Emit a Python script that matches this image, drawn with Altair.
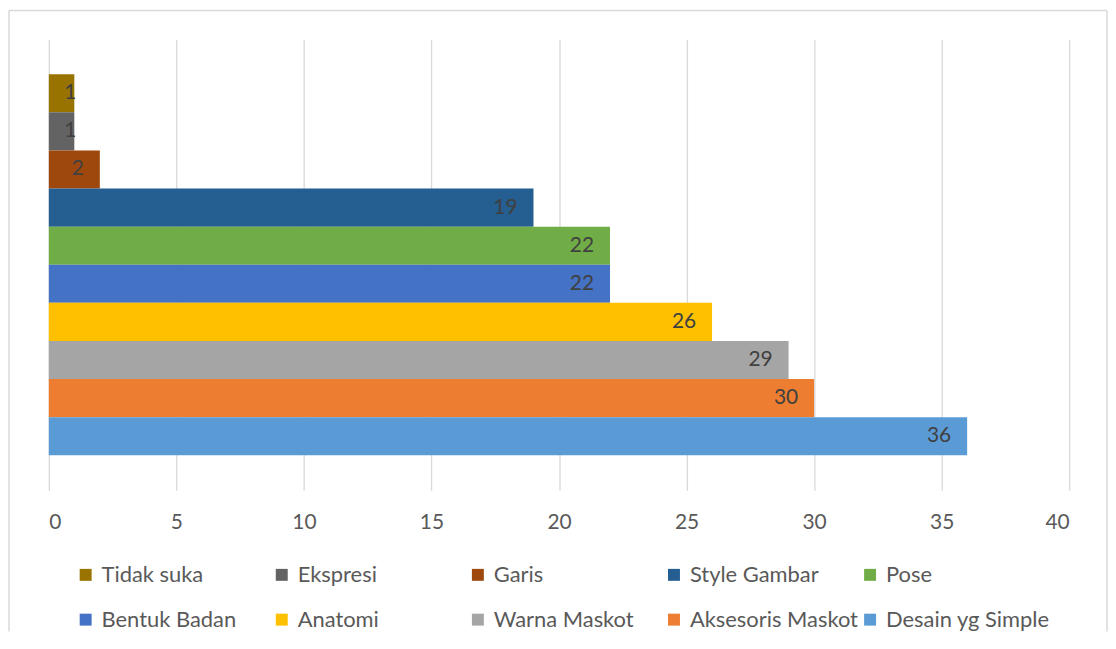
import altair as alt
import pandas as pd

categories = ["Tidak suka", "Ekspresi", "Garis", "Style Gambar", "Pose",
              "Bentuk Badan", "Anatomi", "Warna Maskot", "Aksesoris Maskot", "Desain yg Simple"]
values = [1, 1, 2, 19, 22, 22, 26, 29, 30, 36]
colors = ["#997300", "#636363", "#9e480e", "#255e91", "#70ad47",
          "#4472c4", "#ffc000", "#a5a5a5", "#ed7d31", "#5b9bd5"]
x_ticks = [0, 5, 10, 15, 20, 25, 30, 35, 40]

df = pd.DataFrame({"Kategori": categories, "Jumlah": values})

FONT = "Lato"
W, H = 1025, 453

y_enc = alt.Y("Kategori:N", sort=categories,
              scale=alt.Scale(domain=categories, paddingInner=0, paddingOuter=0.915),
              axis=None)
x_scale = alt.Scale(domain=[0, 40], nice=False)

bars = alt.Chart(df).mark_bar().encode(
    x=alt.X("Jumlah:Q", scale=x_scale,
            axis=alt.Axis(values=x_ticks, grid=True, gridColor="#d9d9d9", gridWidth=1.3,
                          domain=False, ticks=False, labelFontSize=21, labelFont=FONT,
                          labelColor="#595959", labelPadding=21, title=None)),
    y=y_enc,
    color=alt.Color("Kategori:N", sort=categories,
                    scale=alt.Scale(domain=categories, range=colors),
                    legend=alt.Legend(orient="none", legendX=26, legendY=527, columns=5,
                                      title=None, symbolType="square", symbolSize=144,
                                      symbolStrokeWidth=0, labelFontSize=22, labelFont=FONT,
                                      labelColor="#595959", labelOffset=5, labelLimit=400,
                                      columnPadding=1, rowPadding=23, gridAlign="all",
                                      padding=0, direction="horizontal")),
)

labels = alt.Chart(df).transform_calculate(
    lx="datum.Jumlah >= 2 ? datum.Jumlah : datum.Jumlah + 0.7"
).mark_text(align="right", baseline="middle", dx=-16, fontSize=21, font=FONT,
            color="#404040").encode(
    x=alt.X("lx:Q", scale=x_scale),
    y=y_enc,
    text=alt.Text("Jumlah:Q"),
)

one = pd.DataFrame({"a": [0]})
border_color = "#d9d9d9"
left = alt.Chart(one).mark_rule(color=border_color, strokeWidth=1.5).encode(
    x=alt.value(-40), y=alt.value(-29), y2=alt.value(595))
right = alt.Chart(one).mark_rule(color=border_color, strokeWidth=1.5).encode(
    x=alt.value(1063), y=alt.value(-29), y2=alt.value(595))
top = alt.Chart(one).mark_rule(color=border_color, strokeWidth=1.5).encode(
    x=alt.value(-40), x2=alt.value(1063), y=alt.value(-29))

chart = alt.layer(bars, labels, left, right, top).properties(
    width=W, height=H, padding=0, background="white"
).configure_view(stroke=None)

chart.save("out.html", embed_options={"renderer": "svg", "actions": False})
